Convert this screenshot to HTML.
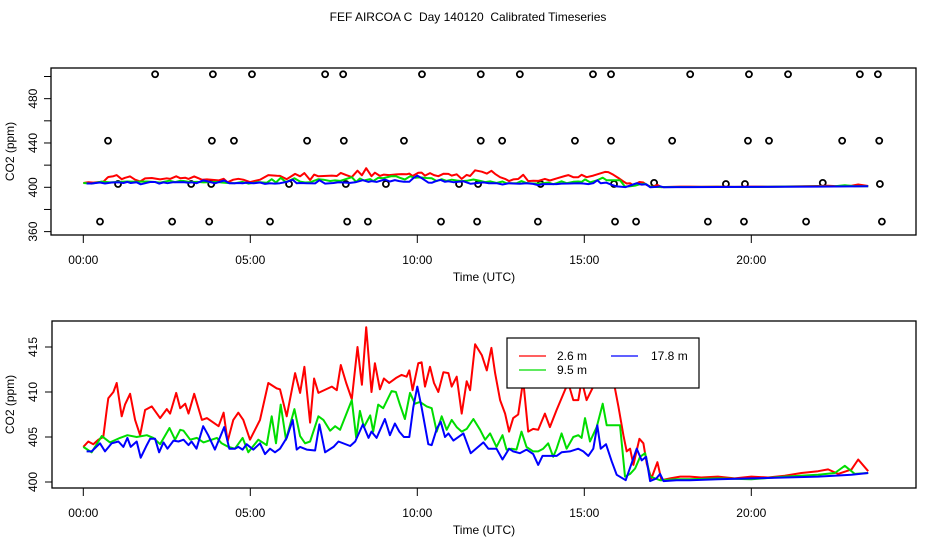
<!DOCTYPE html>
<html><head><meta charset="utf-8"><style>
html,body{margin:0;padding:0;background:#fff;}
svg{display:block;font-family:"Liberation Sans",sans-serif;}
</style></head><body>
<svg id="chart" width="936" height="540" viewBox="0 0 936 540" xmlns="http://www.w3.org/2000/svg">
<text x="468" y="21" font-size="12" text-anchor="middle" style="white-space:pre">FEF AIRCOA C  Day 140120  Calibrated Timeseries</text>
<g id="topPanel"></g>
<g id="botPanel"></g>
</svg>
<script>
const redT=[0,0.15,0.3,0.45,0.6,0.7,0.75,0.9,1,1.15,1.25,1.4,1.55,1.7,1.85,2.05,2.3,2.5,2.6,2.78,2.9,3.05,3.15,3.32,3.55,3.7,4.05,4.2,4.32,4.49,4.64,4.79,4.99,5.14,5.29,5.54,5.79,5.89,6.09,6.34,6.49,6.62,6.79,6.91,7.04,7.44,7.59,7.71,7.87,8.04,8.21,8.34,8.47,8.63,8.73,8.88,9,9.16,9.38,9.53,9.68,9.76,9.86,10.03,10.13,10.23,10.38,10.5,10.63,10.78,10.93,11.03,11.18,11.33,11.48,11.58,11.73,11.93,12.08,12.22,12.33,12.48,12.63,12.75,12.87,13.02,13.17,13.32,13.47,13.62,13.82,13.97,14.17,14.42,14.52,14.67,14.82,14.92,15.07,15.27,15.62,15.72,15.87,16.02,16.17,16.27,16.37,16.47,16.65,16.77,16.87,17.01,17.19,17.31,17.57,17.87,18.16,18.5,19,19.5,20,20.5,21,21.5,22,22.3,22.6,23,23.2,23.5];
const redV=[403.9,404.5,404.2,404.7,405,408,409.3,410,411,407.3,408.6,409.8,406.9,405.2,408,408.4,407.1,408.1,407.6,409.9,408.2,408.7,407.6,409.8,406.9,407.1,406.2,407.7,404.5,406.9,407.7,406.9,404.7,405.8,406.9,411,410.4,410.3,407.3,412.1,409.9,412.8,406.6,411.5,409.9,410.6,410.2,413,411,409.2,415,410.8,417.2,410,413.2,410.3,411.5,411,411.6,411.9,411.7,412.4,410.2,413.2,413.3,410.6,412.8,411,410,412.2,412.1,410.6,411.7,407.6,411.2,410.2,415.3,414.1,412.4,414.9,412.1,409.1,407.6,405.6,407.1,407.5,411.3,405.6,405.9,405.8,407.6,406.1,408,410.2,411,409.1,409.1,411.3,409.1,410.6,413.9,413.7,411.3,408.4,405.2,403.4,403.7,401.9,404.8,404.3,402,400.4,402.2,400.2,400.4,400.6,400.6,400.5,400.6,400.4,400.6,400.5,400.7,401,401.2,401.4,400.9,401.4,402.5,401.2];
const greenT=[0,0.25,0.55,0.8,1.1,1.32,1.6,1.9,2.1,2.3,2.58,2.75,2.9,3,3.2,3.4,3.6,4,4.14,4.34,4.54,4.77,4.94,5.24,5.49,5.64,5.77,5.91,6.07,6.32,6.49,6.64,6.79,7.04,7.19,7.39,7.54,7.69,8.04,8.17,8.28,8.4,8.59,8.68,8.83,8.98,9.23,9.36,9.48,9.63,9.78,9.93,10.08,10.28,10.43,10.58,10.73,10.88,11.03,11.18,11.33,11.48,11.68,11.88,12.03,12.18,12.37,12.55,12.67,12.82,12.97,13.12,13.27,13.47,13.62,13.77,13.92,14.07,14.17,14.32,14.47,14.67,14.82,14.92,15.02,15.17,15.37,15.55,15.67,16.07,16.22,16.37,16.52,16.67,16.82,16.97,17.27,17.76,18.16,19,20,21,22,22.5,22.8,23.1,23.5];
const greenV=[403.9,403.3,405.1,404.4,404.9,405.2,405,405.2,404.9,404.2,406,404.7,405.8,405.7,404.7,404.9,404.4,404.9,404.3,403.9,403.7,404.9,403.3,404.7,404.1,407.3,404.3,408.6,404.7,408.1,405.1,404.3,404.5,407.3,406.9,405.7,406.2,405.8,409.1,404.9,407.9,406.1,407.4,405.6,408.6,408.2,410.1,410,408.6,407,409.9,408.7,408.9,408.4,408.2,405.6,407.3,405.8,406.9,406.1,405.6,405.9,407,405.8,404.7,405.4,403.9,405.2,403.6,403.7,403.6,405.6,403.9,403.4,403.4,403.7,404.3,402.8,403.7,405.4,403.7,405,405.2,404.9,407.1,404.5,406.1,408.7,406.3,406.3,400.6,400.9,401.5,402.8,403.2,400.6,400.2,400.3,400.3,400.4,400.3,400.6,400.8,401,401.8,400.9,401];
const blueT=[0.1,0.25,0.5,0.65,0.85,1.05,1.2,1.32,1.42,1.6,1.72,1.9,2,2.15,2.27,2.4,2.52,2.7,2.85,3,3.15,3.24,3.39,3.59,3.74,3.94,4.22,4.37,4.54,4.64,4.77,4.89,5.09,5.29,5.44,5.59,5.74,5.89,6.09,6.27,6.39,6.49,6.69,6.94,7.07,7.24,7.49,7.64,7.99,8.14,8.37,8.54,8.63,8.78,9.03,9.18,9.33,9.46,9.6,9.76,9.88,10,10.13,10.33,10.43,10.58,10.7,10.83,10.93,11.08,11.38,11.6,11.98,12.13,12.37,12.55,12.75,12.87,13.07,13.27,13.47,13.62,13.75,13.92,14.17,14.32,14.57,14.82,14.97,15.12,15.27,15.39,15.49,15.65,15.82,15.97,16.24,16.42,16.57,16.72,16.85,16.97,17.16,17.27,17.37,17.76,18.16,19,20,21,22,23,23.5];
const blueV=[403.4,403.4,404.3,403.4,404.3,404.5,403.9,404.9,403.9,404.5,402.7,404.1,404.8,404.8,403.3,404.4,403.7,404.6,404.5,404.7,404.1,404.5,403.7,406.2,405.2,403.6,406.1,403.7,403.7,403.9,403.6,404.2,403.6,404.3,403.1,403.7,403.3,403.7,404.9,406.9,403.6,403.9,403.6,403.5,406.4,403.3,403.9,404.5,404,404.5,406.4,404.9,405.6,404.9,407,405.2,406.5,405.6,405,405,408.3,410.6,408.3,404.2,404.1,405.9,406.7,405,405.4,404.6,405.4,403.2,404.4,403.7,403.7,402.5,403.7,403.4,403.2,403.6,403.1,401.9,402.9,402.9,402.9,403.3,403.4,403.7,403.4,402.9,403.7,406.3,403.7,404.2,402.3,400.8,400.2,402.1,403.7,402.4,402.8,400.1,400.4,400.9,400.1,400.2,400.2,400.3,400.4,400.5,400.6,400.8,401];
const circT=[2.15,3.88,5.05,7.24,7.78,10.14,11.9,13.07,15.26,15.8,18.17,19.93,21.1,23.25,23.79,0.74,3.85,4.51,6.7,7.8,9.6,11.9,12.54,14.72,15.8,17.63,19.9,20.53,22.72,23.83,0.5,2.66,3.77,5.59,7.9,8.52,10.71,11.79,13.61,15.92,16.55,18.7,19.78,21.64,23.91,1.04,3.23,3.83,6.16,7.86,9.06,11.25,11.82,13.69,15.89,17.09,19.24,19.81,22.14,23.85];
const circV=[502,502,502,502,502,502,502,502,502,502,502,502,502,502,502,442,442,442,442,442,442,442,442,442,442,442,442,442,442,442,369,369,369,369,369,369,369,369,369,369,369,369,369,369,369,403,403,403,403,403,403,403,403,403,403,404,403,403,404,403];
const xTickHours=[0,5,10,15,20];
const xTickLabels=["00:00","05:00","10:00","15:00","20:00"];
const topTicks=[360,380,400,420,440,460,480,500];
const topLabels=[360,400,440,480];
const botTicks=[400,405,410,415];

const NS="http://www.w3.org/2000/svg";
function mk(parent,tag,attrs){const e=document.createElementNS(NS,tag);for(const k in attrs)e.setAttribute(k,attrs[k]);parent.appendChild(e);return e;}
const X=h=>83.3+33.4*h;
const Ytop=v=>187.3-(v-400)*1.108;
const Ybot=v=>482-(v-400)*9.0;

function panel(g,Y,box,ticks,labels,name){
  const r=mk(g,'rect',{x:box[0],y:box[1],width:box[2]-box[0],height:box[3]-box[1],fill:'none',stroke:'#000','stroke-width':1.3});
  
  
  xTickHours.forEach((h,i)=>{
    const l=mk(g,'line',{x1:X(h),x2:X(h),y1:box[3],y2:box[3]+8,stroke:'#000','stroke-width':1});
    
    
    const t=mk(g,'text',{x:X(h),y:box[3]+29,'font-size':12,'text-anchor':'middle'});t.textContent=xTickLabels[i];
    
    
  });
  const xt=mk(g,'text',{x:484,y:box[3]+46,'font-size':12,'text-anchor':'middle'});xt.textContent='Time (UTC)';
  
  
  ticks.forEach(v=>{
    const l=mk(g,'line',{x1:box[0]-7,x2:box[0],y1:Y(v),y2:Y(v),stroke:'#000','stroke-width':1});
    
    
  });
  labels.forEach(v=>{
    const t=mk(g,'text',{x:0,y:0,'font-size':12,'text-anchor':'middle',transform:`translate(37,${Y(v)}) rotate(-90)`});t.textContent=v;
    
    
  });
  const yt=mk(g,'text',{x:0,y:0,'font-size':12,'text-anchor':'middle',transform:`translate(14,${(box[1]+box[3])/2}) rotate(-90)`});yt.textContent='CO2 (ppm)';
  
  
}
function series(g,T,V,Y,color,name){
  const d=T.map((t,i)=>(i?'L':'M')+X(t).toFixed(1)+','+Y(V[i]).toFixed(1)).join('');
  const p=mk(g,'path',{d:d,fill:'none',stroke:color,'stroke-width':2,'stroke-linejoin':'round'});
  
  
}
const topG=document.getElementById('topPanel'),botG=document.getElementById('botPanel');
panel(topG,Ytop,[51,68,916,235],topTicks,topLabels,'top');
panel(botG,Ybot,[52,321,916,488],botTicks,botTicks,'bottom');
circT.forEach((t,i)=>{
  const c=mk(topG,'circle',{cx:X(t),cy:Ytop(circV[i]),r:3,fill:'none',stroke:'#000','stroke-width':1.8});
  
  
});
[[topG,Ytop],[botG,Ybot]].forEach(([g,Y])=>{
  series(g,redT,redV,Y,'#ff0000','series-2-6m');
  series(g,greenT,greenV,Y,'#00dd00','series-9-5m');
  series(g,blueT,blueV,Y,'#0000ff','series-17-8m');
});
const lg=mk(botG,'g',{});


mk(lg,'rect',{x:507,y:338,width:192,height:50,fill:'#fff',stroke:'#000','stroke-width':1.2});
const ents=[[519,356,'#ff0000','2.6 m',557,'legend-entry-2-6m'],[611,356,'#0000ff','17.8 m',651,'legend-entry-17-8m'],[519,370,'#00dd00','9.5 m',557,'legend-entry-9-5m']];
ents.forEach(e=>{
  const eg=mk(lg,'g',{});
  
  
  mk(eg,'line',{x1:e[0],x2:e[0]+27,y1:e[1],y2:e[1],stroke:e[2],'stroke-width':1.3});
  const t=mk(eg,'text',{x:e[4],y:e[1]+4,'font-size':12});t.textContent=e[3];
});
</script>
</body></html>
